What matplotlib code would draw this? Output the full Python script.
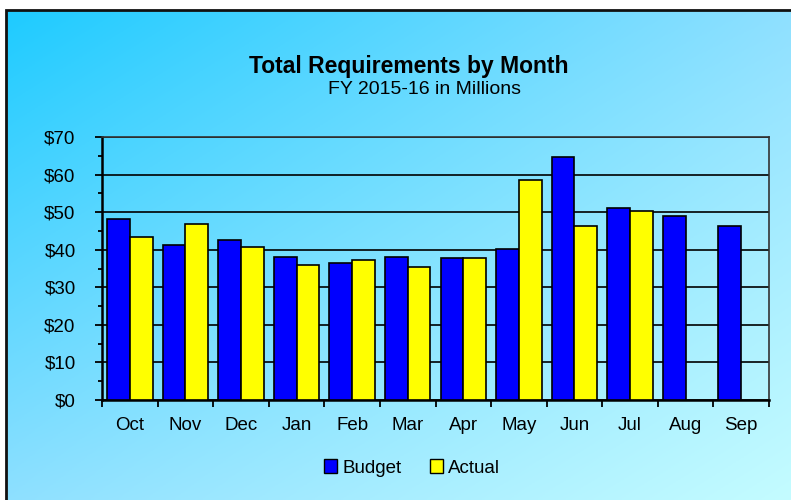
import numpy as np
import matplotlib
matplotlib.use('Agg')
import matplotlib.pyplot as plt
from matplotlib.patches import Rectangle, Patch

plt.rcParams['font.family'] = ['Liberation Sans', 'DejaVu Sans']

months = ['Oct', 'Nov', 'Dec', 'Jan', 'Feb', 'Mar',
          'Apr', 'May', 'Jun', 'Jul', 'Aug', 'Sep']
budget = [48.2, 41.2, 42.6, 38.1, 36.4, 38.1,
          37.7, 40.3, 64.7, 51.2, 49.1, 46.4]
actual = [43.4, 46.8, 40.8, 36.0, 37.3, 35.5,
          37.7, 58.6, 46.4, 50.4, None, None]
yticks = [0, 10, 20, 30, 40, 50, 60, 70]

W, H = 791, 500
fig = plt.figure(figsize=(W / 100, H / 100), dpi=100)
fig.patch.set_facecolor('white')

# diagonal gradient background (chart area starts at x=6, y=10 px)
bg = fig.add_axes([6 / W, 0, 1 - 6 / W, 1 - 10 / H], zorder=-10)
tl = np.array([30, 203, 255]) / 255
tr = np.array([143, 224, 255]) / 255
bl = np.array([142, 224, 255]) / 255
br = np.array([196, 252, 255]) / 255
u = np.linspace(0, 1, 300)[None, :, None]
v = np.linspace(0, 1, 200)[:, None, None]
grad = (1 - v) * ((1 - u) * tl + u * tr) + v * ((1 - u) * bl + u * br)
bg.imshow(grad, aspect='auto', extent=[0, 1, 0, 1], origin='upper')
bg.set_axis_off()
fig.add_artist(Rectangle((6.5 / W, -0.01), 1, 1 - 9.5 / H + 0.01,
                         transform=fig.transFigure, fill=False,
                         edgecolor='#111111', lw=2, zorder=-5))

ax = fig.add_axes([102 / W, 1 - 400 / H, 667 / W, 263 / H])
ax.patch.set_alpha(0)

x = np.arange(len(months))
w = 0.41
ax.bar(x - w / 2, budget, w, color='#0000FF', edgecolor='black', lw=1.2,
       zorder=3)
act = [np.nan if a is None else a for a in actual]
ax.bar(x + w / 2, act, w, color='#FFFF00', edgecolor='black', lw=1.2,
       zorder=3)

ax.set_xlim(-0.5, len(months) - 0.5)
ax.set_ylim(0, 70)
ax.set_yticks(yticks)
ax.set_yticklabels(['$%d' % t for t in yticks])
ax.set_yticks(np.arange(5, 70, 10), minor=True)
ax.yaxis.grid(True, color='black', lw=1.2, zorder=1)
ax.set_axisbelow(True)

ax.set_xticks(x)
ax.set_xticklabels(months)
ax.set_xticks(np.arange(-0.5, len(months), 1), minor=True)
ax.tick_params(axis='x', which='major', length=0, pad=12, labelsize=13.5)
ax.tick_params(axis='x', which='minor', length=5, width=1.3)
ax.tick_params(axis='y', which='major', length=5, width=1.3, pad=14,
               labelsize=13.5)
ax.tick_params(axis='y', which='minor', length=3, width=1.3)

for s in ['left', 'bottom']:
    ax.spines[s].set_linewidth(1.8)
    ax.spines[s].set_color('black')
for s in ['top', 'right']:
    ax.spines[s].set_linewidth(1.2)
    ax.spines[s].set_color('#333333')

fig.text(409 / W, 1 - 67 / H, 'Total Requirements by Month',
         ha='center', va='center', fontsize=16.5, fontweight='bold')
fig.text(424 / W, 1 - 90 / H, 'FY 2015-16 in Millions',
         ha='center', va='center', fontsize=14)

handles = [Patch(facecolor='#0000FF', edgecolor='black', label='Budget'),
           Patch(facecolor='#FFFF00', edgecolor='black', label='Actual')]
fig.legend(handles=handles, loc='center', ncol=2, frameon=False,
           bbox_to_anchor=(412 / W, 1 - 468 / H), fontsize=13.5,
           handlelength=0.7, handleheight=0.7, handletextpad=0.3,
           columnspacing=1.5)

fig.savefig('out.png', dpi=100)
